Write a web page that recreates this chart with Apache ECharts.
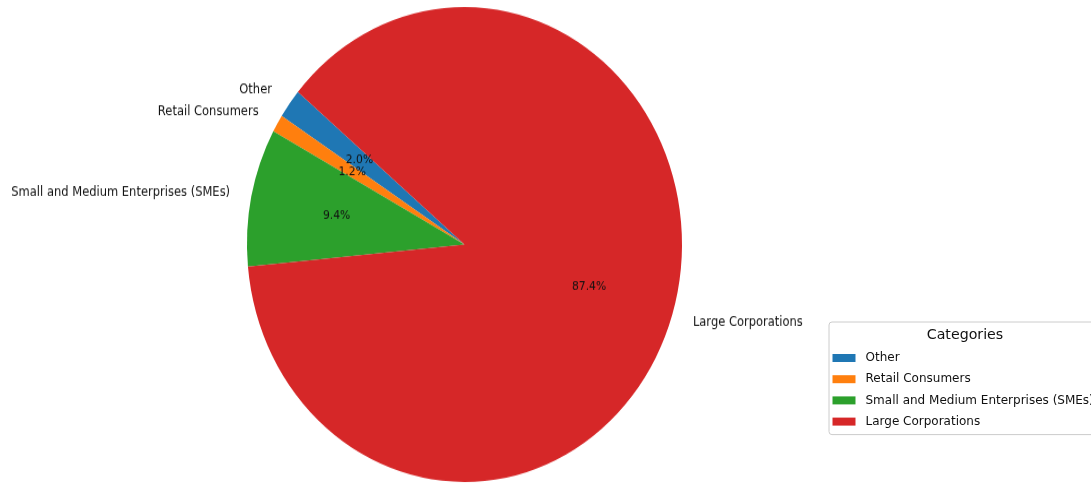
<!DOCTYPE html>
<html>
<head>
<meta charset="utf-8">
<script src="https://cdn.jsdelivr.net/npm/echarts@6/dist/echarts.min.js"></script>
<style>
  html, body { margin: 0; padding: 0; background: #fff; overflow: hidden; }
  #wrap { position: relative; width: 1091px; height: 483px; overflow: hidden; }
  #pie { position: absolute; left: 0; top: 0; width: 1091px; height: 483px;
         transform: scaleY(1.092); transform-origin: 0 244.5px; }
  #leg { position: absolute; left: 0; top: 0; width: 1091px; height: 483px; }
</style>
</head>
<body>
<div id="wrap">
  <div id="pie"></div>
  <div id="leg"></div>
</div>
<script>
// ---- data ----
const categories = ['Other', 'Retail Consumers', 'Small and Medium Enterprises (SMEs)', 'Large Corporations'];
const shares = [2.0, 1.2, 9.4, 87.4];
const colors = ['#1f77b4', '#ff7f0e', '#2ca02c', '#d62728'];
const legendTitle = 'Categories';

const FONT = 'DejaVu Sans';
const pieData = categories.map((c, i) => ({ name: c, value: shares[i], itemStyle: { color: colors[i] } }));

const R = 217.5;
const CENTER = [464.5, 244.5];

const pieChart = echarts.init(document.getElementById('pie'), null, { renderer: 'canvas' });
pieChart.setOption({
  animation: false,
  backgroundColor: 'transparent',
  series: [
    {
      type: 'pie',
      center: CENTER,
      radius: [0, R],
      startAngle: 140,
      clockwise: false,
      avoidLabelOverlap: false,
      silent: true,
      itemStyle: { borderWidth: 0 },
      label: {
        show: true,
        position: 'outer',
        alignTo: 'none',
        bleedMargin: 0,
        distanceToLabelLine: 0,
        overflow: 'none',
        formatter: p => p.name,
        fontFamily: FONT,
        fontSize: 11.5,
        color: '#111'
      },
      labelLine: { show: false, length: R * 0.1, length2: 0 },
      data: pieData
    },
    {
      type: 'pie',
      center: CENTER,
      radius: [0, 255],
      startAngle: 140,
      clockwise: false,
      avoidLabelOverlap: false,
      silent: true,
      itemStyle: { color: 'rgba(0,0,0,0)', borderWidth: 0 },
      label: {
        show: true,
        position: 'inside',
        formatter: p => p.percent.toFixed(1) + '%',
        fontFamily: FONT,
        fontSize: 10.8,
        color: '#111'
      },
      labelLine: { show: false },
      data: categories.map((c, i) => ({ name: c, value: shares[i] }))
    }
  ]
});

const legChart = echarts.init(document.getElementById('leg'), null, { renderer: 'canvas' });
legChart.setOption({
  animation: false,
  backgroundColor: 'transparent',
  title: {
    text: legendTitle,
    left: 965,
    top: 328.5,
    textAlign: 'center',
    padding: 0,
    textStyle: { fontFamily: FONT, fontSize: 14.2, fontWeight: 'normal', color: '#111' }
  },
  legend: {
    orient: 'vertical',
    left: 829,
    top: 322,
    padding: [29, 12, 6, 3.5],
    itemWidth: 23,
    itemHeight: 8,
    itemGap: 7.2,
    icon: 'rect',
    borderColor: '#cccccc',
    borderWidth: 1,
    borderRadius: 3,
    backgroundColor: 'rgba(255,255,255,0.8)',
    selectedMode: false,
    data: categories,
    textStyle: { fontFamily: FONT, fontSize: 12, lineHeight: 14, color: '#111', padding: [0, 0, 0, 5] }
  },
  series: [{
    type: 'pie',
    center: [-100, -100],
    radius: [0, 1],
    silent: true,
    label: { show: false },
    labelLine: { show: false },
    data: pieData
  }]
});
</script>
</body>
</html>
